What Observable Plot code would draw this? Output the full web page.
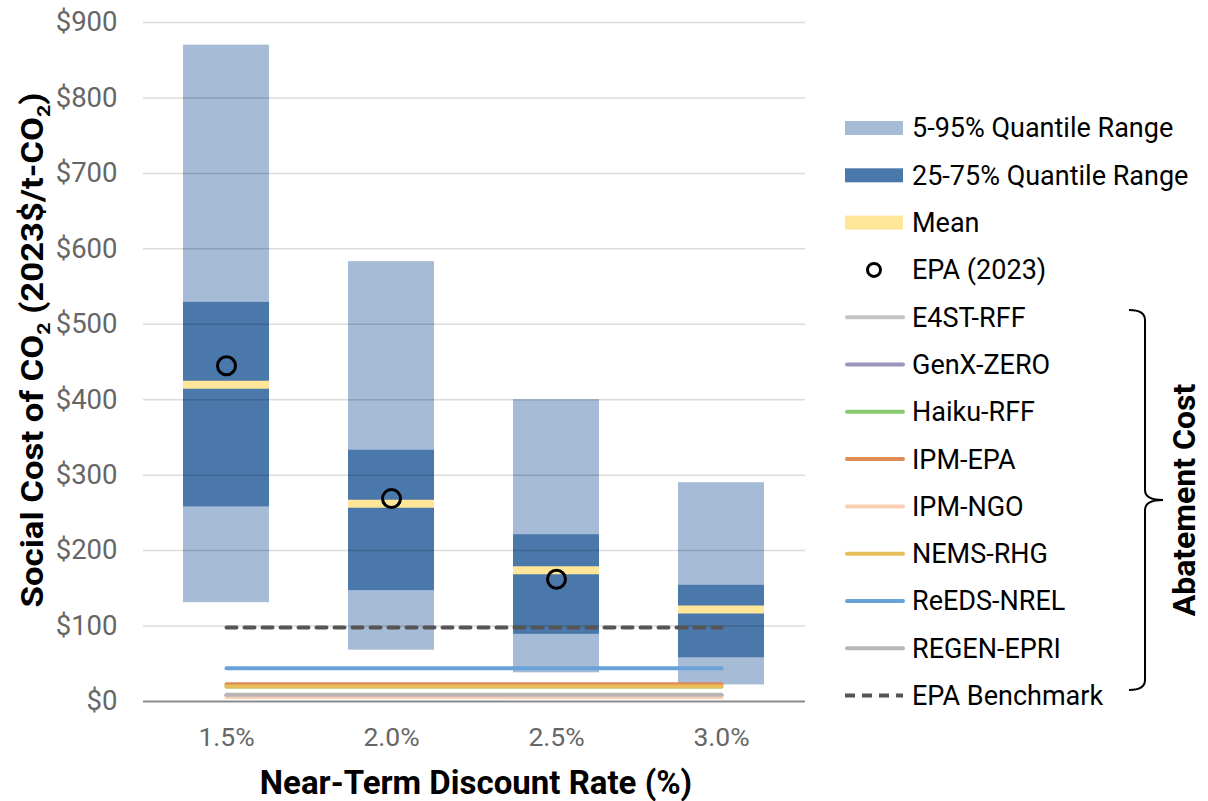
<!DOCTYPE html>
<html>
<head>
<meta charset="utf-8">
<script src="https://cdn.jsdelivr.net/npm/d3@7"></script>
<script src="https://cdn.jsdelivr.net/npm/@observablehq/plot@0.6"></script>
<style>
  body { margin: 0; background: #fff; font-family: Roboto, sans-serif; }
  #wrap { position: relative; width: 1208px; height: 801px; overflow: hidden; }
  #chart { position: absolute; left: 0; top: 0; }
  #legend { position: absolute; left: 830px; top: 0; }
</style>
</head>
<body>
<div id="wrap"><div id="chart"></div><div id="legend"></div></div>
<script>
// ---- data ----
const categories = ["1.5%", "2.0%", "2.5%", "3.0%"];
const q05 = [131, 68, 38, 22];
const q95 = [870, 583, 400, 290];
const q25 = [258, 147, 89, 58];
const q75 = [529, 333, 221, 154];
const means = [420, 262, 174, 122];
const epa2023 = [445, 269, 162, null];
const models = ["E4ST-RFF", "GenX-ZERO", "Haiku-RFF", "IPM-EPA", "IPM-NGO", "NEMS-RHG", "ReEDS-NREL", "REGEN-EPRI"];
const modelCosts = [8, 8, 20, 23, 6, 20, 44, 9];
const modelColors = ["#c4c4c4", "#9b94bb", "#88c96e", "#de8b56", "#f9d0b3", "#e7be5a", "#68a2d8", "#b9b5b5"];
const epaBenchmark = 98;
const yTicks = [0, 100, 200, 300, 400, 500, 600, 700, 800, 900];

const rows = categories.map((c, i) => ({cat: c, q05: q05[i], q95: q95[i], q25: q25[i], q75: q75[i], mean: means[i], epa: epa2023[i]}));
const lineRows = (v) => [{cat: categories[0], v}, {cat: categories[categories.length - 1], v}];

const cLight = "#a6bbd5", cDark = "#4a78aa", cMean = "#ffe699";

const chart = Plot.plot({
  width: 830, height: 801,
  marginLeft: 143, marginRight: 25, marginTop: 22, marginBottom: 100,
  style: {fontFamily: "Roboto, sans-serif", background: "#fff", overflow: "visible"},
  x: {domain: categories, paddingInner: 0.476, paddingOuter: 0.238, label: null},
  y: {domain: [0, 900], label: null},
  marks: [
    Plot.barY(rows, {x: "cat", y1: "q05", y2: "q95", fill: cLight}),
    Plot.barY(rows, {x: "cat", y1: "q25", y2: "q75", fill: cDark}),
    Plot.tickY(rows, {x: "cat", y: "mean", stroke: cMean, strokeWidth: 8}),
    Plot.ruleY(yTicks.filter(d => d > 0), {stroke: "#000", strokeOpacity: 0.14, strokeWidth: 1.5}),
    ...models.map((m, i) => Plot.lineY(lineRows(modelCosts[i]), {x: "cat", y: "v", stroke: modelColors[i], strokeWidth: 4, strokeLinecap: "round"})),
    Plot.lineY(lineRows(epaBenchmark), {x: "cat", y: "v", stroke: "#555", strokeWidth: 4, strokeDasharray: "10,8"}),
    Plot.dot(rows.filter(d => d.epa != null), {x: "cat", y: "epa", r: 9, stroke: "#000", strokeWidth: 3, fill: "none"}),
    Plot.ruleY([0], {stroke: "#8c8c8c", strokeWidth: 2}),
    Plot.axisY(yTicks, {tickSize: 0, tickPadding: 26, fontSize: 27.5, fill: "#666", tickFormat: d => "$" + d, label: null}),
    Plot.axisX({tickSize: 0, tickPadding: 26, fontSize: 26.5, fill: "#666", label: null})
  ]
});
document.getElementById("chart").appendChild(chart);

// axis titles
const svg = d3.select(chart);
const yt = svg.append("text")
  .attr("transform", "translate(43,350) rotate(-90)")
  .attr("text-anchor", "middle")
  .attr("textLength", 515).attr("lengthAdjust", "spacingAndGlyphs")
  .attr("font-size", 31).attr("font-weight", "bold").attr("fill", "#000");
yt.append("tspan").text("Social Cost of CO");
yt.append("tspan").text("2").attr("font-size", 19).attr("dy", 7);
yt.append("tspan").text(" (2023$/t-CO").attr("dy", -7);
yt.append("tspan").text("2").attr("font-size", 19).attr("dy", 7);
yt.append("tspan").text(")").attr("dy", -7);

svg.append("text")
  .attr("x", 476).attr("y", 794)
  .attr("text-anchor", "middle")
  .attr("font-size", 33).attr("font-weight", "bold").attr("fill", "#000")
  .text("Near-Term Discount Rate (%)");

// ---- legend ----
const legendItems = [
  {label: "5-95% Quantile Range", type: "rect", color: cLight},
  {label: "25-75% Quantile Range", type: "rect", color: cDark},
  {label: "Mean", type: "rect", color: cMean},
  {label: "EPA (2023)", type: "dot", color: "#000"},
  ...models.map((m, i) => ({label: m, type: "line", color: modelColors[i]})),
  {label: "EPA Benchmark", type: "dash", color: "#555"}
];
const lg = d3.select("#legend").append("svg")
  .attr("width", 378).attr("height", 801)
  .style("font-family", "Roboto, sans-serif");
const x0 = 15, sw = 58, tx = 82, y0 = 128, dyRow = 47.3;
legendItems.forEach((it, i) => {
  const cy = y0 + i * dyRow;
  if (it.type === "rect") {
    lg.append("rect").attr("x", x0).attr("y", cy - 7).attr("width", sw).attr("height", 14).attr("fill", it.color);
  } else if (it.type === "dot") {
    lg.append("circle").attr("cx", x0 + sw / 2).attr("cy", cy).attr("r", 6.5).attr("fill", "none").attr("stroke", it.color).attr("stroke-width", 3);
  } else if (it.type === "line") {
    lg.append("line").attr("x1", x0 + 2).attr("x2", x0 + sw).attr("y1", cy).attr("y2", cy)
      .attr("stroke", it.color).attr("stroke-width", 4).attr("stroke-linecap", "round");
  } else {
    lg.append("line").attr("x1", x0).attr("x2", x0 + sw).attr("y1", cy).attr("y2", cy)
      .attr("stroke", it.color).attr("stroke-width", 4).attr("stroke-dasharray", "10,7");
  }
  lg.append("text").attr("x", tx).attr("y", cy).attr("dy", "0.35em")
    .attr("font-size", 27).attr("fill", "#000").text(it.label);
});
// bracket
lg.append("path")
  .attr("d", "M299,310 Q315,310 315,320 L315,490 Q315,500 333,500 Q315,500 315,510 L315,680 Q315,690 299,690")
  .attr("fill", "none").attr("stroke", "#000").attr("stroke-width", 2);
lg.append("text")
  .attr("transform", "translate(354,500) rotate(-90)")
  .attr("text-anchor", "middle").attr("dy", "0.35em")
  .attr("font-size", 32).attr("font-weight", "bold").attr("fill", "#000")
  .text("Abatement Cost");
</script>
</body>
</html>
